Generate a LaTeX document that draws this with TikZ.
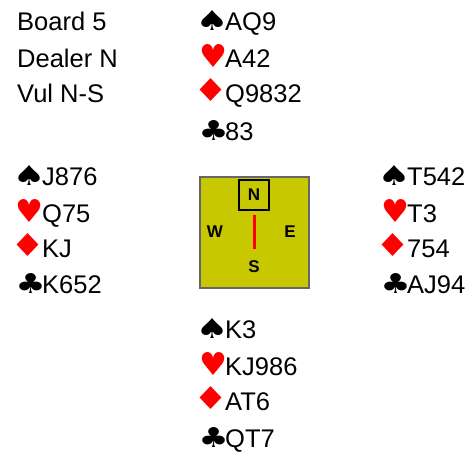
\documentclass[tikz,border=0pt]{standalone}
\usepackage{fontspec}
\setmainfont{Liberation Sans}
\newfontfamily\suitfont{DejaVu Sans}
\usepackage{tikz}
\usetikzlibrary{calc}

\definecolor{compassbg}{RGB}{200,200,0}
\definecolor{suitred}{RGB}{255,0,0}
% #1 glyph, #2 width, #3 height, #4 left bearing, #5 raise
\newcommand{\suitglyph}[5]{\makebox[25pt][l]{\hspace{-#4}\raisebox{#5}{\resizebox{#2}{#3}{\suitfont #1}}}}
\newcommand{\spd}{\suitglyph{♠}{33pt}{20pt}{4.7pt}{0pt}}
\newcommand{\hrt}{\suitglyph{\color{suitred}♥}{28pt}{23pt}{1.2pt}{0pt}}
\newcommand{\dmd}{\suitglyph{\color{suitred}♦}{35pt}{23pt}{6.3pt}{0.8pt}}
\newcommand{\clb}{\suitglyph{♣}{30pt}{20pt}{1.5pt}{0pt}}

\tikzset{
	row/.style={anchor=base west,inner sep=0pt,font=\fontsize{25.5}{28}\selectfont},
	dir/.style={inner sep=0pt,font=\fontsize{17}{17}\selectfont\bfseries},
	needle/.style={draw=suitred,line width=3pt}
}

\begin{document}
\begin{tikzpicture}[x=1pt,y=-1pt]
		\useasboundingbox (0,0) rectangle (471,458);
		
		\node[row](B) at (17,30) {Board 5};
		\node[row](D) at (17,67) {Dealer N};
		\node[row](V) at (17,102) {Vul N-S};
		
		\node[row](NS) at (200,30) {\spd AQ9};
		\node[row](NH) at (200,67) {\hrt A42};
		\node[row](ND) at (200,102) {\dmd Q9832};
		\node[row](NC) at (200,140) {\clb 83};
		
		\node[row](WS) at (17,185) {\spd J876};
		\node[row](WH) at (17,222) {\hrt Q75};
		\node[row](WD) at (17,257) {\dmd KJ};
		\node[row](WC) at (17,293) {\clb K652};
		
		\node[row](ES) at (382,185) {\spd T542};
		\node[row](EH) at (382,222) {\hrt T3};
		\node[row](ED) at (382,257) {\dmd 754};
		\node[row](EC) at (382,293) {\clb AJ94};
		
		\node[row](SS) at (200,338) {\spd K3};
		\node[row](SH) at (200,375) {\hrt KJ986};
		\node[row](SD) at (200,410) {\dmd AT6};
		\node[row](SC) at (200,447) {\clb QT7};
		
		% compass
		\draw[fill=compassbg,draw=black!60,line width=1.2pt] (200,177) rectangle (309,288);
		\node[dir,draw=black,line width=1.8pt,minimum width=30pt,minimum height=30pt](N) at (254,195) {N};
		\node[dir](W) at (215,232) {W};
		\node[dir](E) at (290,232) {E};
		\node[dir](S) at (254,267) {S};
		\coordinate(tip) at (254,249);
		\draw[needle] ($(N.south)+(0,4)$)--(tip);
	\end{tikzpicture}
\end{document}
